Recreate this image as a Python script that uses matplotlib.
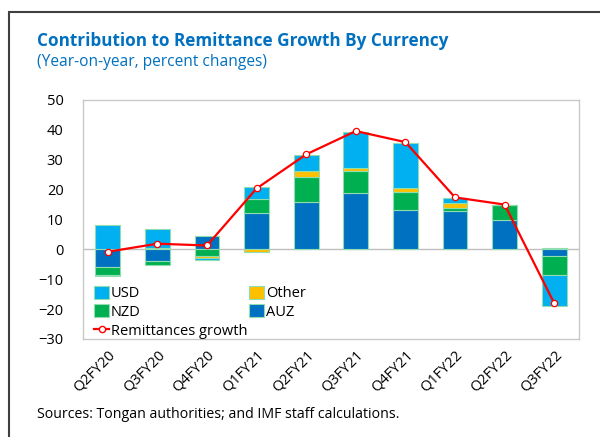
import numpy as np
import matplotlib
matplotlib.use("Agg")
import matplotlib.pyplot as plt
from matplotlib.patches import Rectangle, Patch
from matplotlib.lines import Line2D

categories = ["Q2FY20", "Q3FY20", "Q4FY20", "Q1FY21", "Q2FY21",
              "Q3FY21", "Q4FY21", "Q1FY22", "Q2FY22", "Q3FY22"]
auz = [-5.9, -3.9, 4.4, 12.2, 15.8, 19.0, 13.2, 12.9, 9.9, -2.1]
nzd = [-2.7, -1.3, -2.1, 4.8, 8.3, 7.2, 6.1, 1.0, 4.9, -6.4]
other = [-0.4, 0.4, -0.9, -0.8, 2.1, 0.9, 1.1, 1.7, 0.1, 0.4]
usd = [8.0, 6.5, -0.5, 3.9, 5.3, 12.2, 15.1, 1.7, 0.1, -10.4]
growth = [-0.8, 1.9, 1.3, 20.4, 31.8, 39.6, 35.9, 17.4, 15.0, -18.0]

series = [("AUZ", auz, "#0070C0"), ("NZD", nzd, "#00B050"),
          ("Other", other, "#FFC000"), ("USD", usd, "#00B0F0")]

plt.rcParams['font.family'] = ['Open Sans', 'DejaVu Sans']

fig = plt.figure(figsize=(6.0, 4.37), dpi=100)
ax = fig.add_axes([83/600, 1-339/437, (579-83)/600, (339-100)/437])

x = np.arange(len(categories))
pos_base = np.zeros(len(categories))
neg_base = np.zeros(len(categories))
edge = "#8FDDB0"
handles = {}
for name, vals, col in series:
    v = np.array(vals, dtype=float)
    bottoms = np.where(v >= 0, pos_base, neg_base)
    ax.bar(x, v, bottom=bottoms, width=0.5, color=col, edgecolor=edge,
           linewidth=0.8, zorder=2)
    pos_base = pos_base + np.where(v >= 0, v, 0)
    neg_base = neg_base + np.where(v < 0, v, 0)
    handles[name] = Patch(facecolor=col, edgecolor=edge, linewidth=0.8)

ax.plot(x, growth, color="#FF0000", linewidth=1.6, marker="o", markersize=4.5,
        markerfacecolor="white", markeredgecolor="#FF0000", markeredgewidth=0.9,
        zorder=3)
handles["Remittances growth"] = Line2D([0], [0], color="#FF0000", linewidth=1.6,
                                       marker="o", markersize=4.5,
                                       markerfacecolor="white",
                                       markeredgecolor="#FF0000")

ax.axhline(0, color="#BFBFBF", linewidth=1.0, zorder=1)
ax.set_xlim(-0.5, len(categories) - 0.5)
ax.set_ylim(-30, 50)
ax.set_yticks(np.arange(-30, 51, 10))
ax.set_xticks(x)
ax.set_xticklabels(categories, rotation=45, ha="right", rotation_mode="anchor")
ax.tick_params(axis="both", length=0, labelsize=10.5, colors="#000000")
ax.tick_params(axis="y", pad=14)
ax.tick_params(axis="x", pad=6)
for sp in ax.spines.values():
    sp.set_color("#C8C8C8")
    sp.set_linewidth(1.0)

order = ["USD", "NZD", "Remittances growth", "Other", "AUZ"]
leg = ax.legend([handles[k] for k in order], order, ncol=2, frameon=False,
                loc="lower left", bbox_to_anchor=(0.005, -0.035),
                fontsize=10.5, handlelength=1.0, handleheight=1.0,
                handletextpad=0.15, columnspacing=0.1, labelspacing=0.22,
                borderaxespad=0.2)

fig.text(37/600, 1-41/437, "Contribution to Remittance Growth By Currency",
         color="#0070C0", fontsize=12.3, fontweight="bold", va="center", ha="left")
fig.text(37/600, 1-62/437, "(Year-on-year, percent changes)",
         color="#0070C0", fontsize=11.2, va="center", ha="left")
fig.text(37/600, 1-414/437, "Sources: Tongan authorities; and IMF staff calculations.",
         color="#000000", fontsize=10.2, va="center", ha="left")

fig.patches.append(Rectangle((9/600, -0.1), 1.2, 1 - 12/437 + 0.1,
                             transform=fig.transFigure, fill=False,
                             edgecolor="#404040", linewidth=1.5))

fig.savefig("out.png", dpi=100)
